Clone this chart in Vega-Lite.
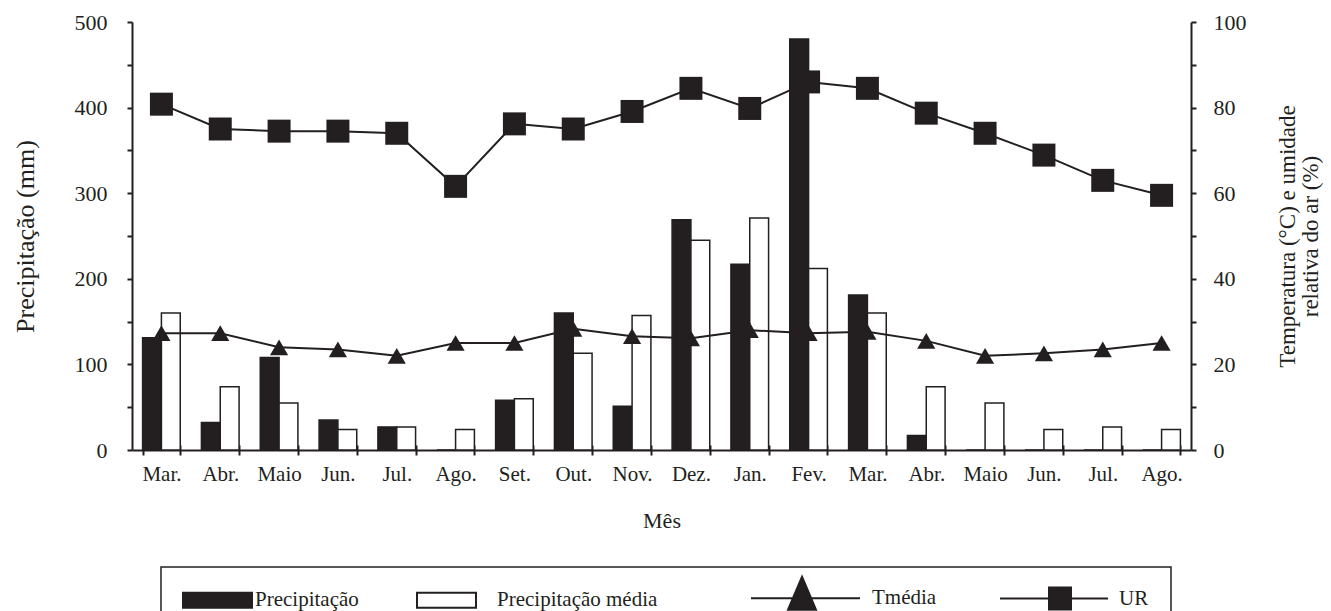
{
  "$schema": "https://vega.github.io/schema/vega-lite/v6.json",
  "width": 1059,
  "height": 428,
  "autosize": {"type": "none"},
  "padding": {"left": 132, "top": 22, "right": 140, "bottom": 161},
  "background": "white",
  "config": {
    "view": {"stroke": null},
    "font": "Liberation Serif",
    "axis": {
      "labelFont": "Liberation Serif",
      "titleFont": "Liberation Serif",
      "labelColor": "#231f20",
      "titleColor": "#231f20",
      "domainColor": "#231f20",
      "tickColor": "#231f20",
      "domainWidth": 2,
      "tickWidth": 2,
      "tickSize": 5,
      "grid": false,
      "labelFontSize": 21,
      "titleFontSize": 22,
      "titleFontWeight": "normal"
    },
    "legend": {"labelFont": "Liberation Serif", "titleFont": "Liberation Serif"}
  },
  "data": {
    "values": [
      {"mes": "Mar.|1", "Precipitação": 131, "Precipitação média": 160, "Tmédia": 27.3, "UR": 80.8},
      {"mes": "Abr.|1", "Precipitação": 32, "Precipitação média": 74, "Tmédia": 27.3, "UR": 75},
      {"mes": "Maio|1", "Precipitação": 108, "Precipitação média": 55, "Tmédia": 24, "UR": 74.5},
      {"mes": "Jun.|1", "Precipitação": 35, "Precipitação média": 24, "Tmédia": 23.5, "UR": 74.5},
      {"mes": "Jul.|1", "Precipitação": 27, "Precipitação média": 27, "Tmédia": 22, "UR": 74},
      {"mes": "Ago.|1", "Precipitação": 0, "Precipitação média": 24, "Tmédia": 25, "UR": 61.6},
      {"mes": "Set.|1", "Precipitação": 58, "Precipitação média": 60, "Tmédia": 25, "UR": 76.2},
      {"mes": "Out.|1", "Precipitação": 160, "Precipitação média": 113, "Tmédia": 28.3, "UR": 75},
      {"mes": "Nov.|1", "Precipitação": 51, "Precipitação média": 157, "Tmédia": 26.6, "UR": 79.1},
      {"mes": "Dez.|1", "Precipitação": 269, "Precipitação média": 245, "Tmédia": 26.1, "UR": 84.5},
      {"mes": "Jan.|2", "Precipitação": 217, "Precipitação média": 271, "Tmédia": 28, "UR": 79.8},
      {"mes": "Fev.|2", "Precipitação": 480, "Precipitação média": 212, "Tmédia": 27.3, "UR": 86},
      {"mes": "Mar.|2", "Precipitação": 181, "Precipitação média": 160, "Tmédia": 27.6, "UR": 84.5},
      {"mes": "Abr.|2", "Precipitação": 17, "Precipitação média": 74, "Tmédia": 25.5, "UR": 78.7},
      {"mes": "Maio|2", "Precipitação": 0, "Precipitação média": 55, "Tmédia": 22, "UR": 74},
      {"mes": "Jun.|2", "Precipitação": 0, "Precipitação média": 24, "Tmédia": 22.6, "UR": 68.9},
      {"mes": "Jul.|2", "Precipitação": 0, "Precipitação média": 27, "Tmédia": 23.5, "UR": 63},
      {"mes": "Ago.|2", "Precipitação": 0, "Precipitação média": 24, "Tmédia": 25, "UR": 59.5}
    ]
  },
  "layer": [
    {
      "transform": [{"fold": ["Precipitação", "Precipitação média"], "as": ["serie", "v"]}],
      "mark": {"type": "bar", "stroke": "#231f20", "strokeWidth": 1.5},
      "encoding": {
        "x": {
          "field": "mes", "type": "nominal", "sort": null,
          "scale": {"paddingInner": 0.36, "paddingOuter": 0.18},
          "axis": {"orient": "bottom", "title": "Mês", "labelExpr": "isString(datum.value) ? split(datum.value, '|')[0] : ''", "labelAngle": 0, "tickBand": "extent", "labelPadding": 8, "titlePadding": 26}
        },
        "xOffset": {"field": "serie", "type": "nominal", "scale": {"domain": ["Precipitação", "Precipitação média"], "paddingInner": 0, "paddingOuter": 0}},
        "y": {
          "field": "v", "type": "quantitative",
          "scale": {"domain": [0, 500], "nice": false},
          "axis": {"orient": "left", "title": "Precipitação (mm)", "values": [0, 50, 100, 150, 200, 250, 300, 350, 400, 450, 500], "labelExpr": "datum.value % 100 === 0 ? datum.label : ''", "labelPadding": 20, "titlePadding": 36, "titleFontSize": 26, "labelFontSize": 22}
        },
        "fill": {
          "field": "serie", "type": "nominal",
          "scale": {"domain": ["Precipitação", "Precipitação média", "Tmédia", "UR"], "range": ["#231f20", "#ffffff", "#231f20", "#231f20"]},
          "legend": {
            "orient": "none", "legendX": 29, "legendY": 545, "direction": "horizontal", "title": null,
            "padding": 22, "strokeColor": "#231f20", "columnPadding": 54, "symbolSize": 11827, "labelOffset": 4,
            "labelFont": "Liberation Serif", "labelFontSize": 21, "labelColor": "#231f20", "labelBaseline": "middle", "labelLimit": 400,
            "encoding": {
              "symbols": {
                "shape": {"value": {"expr": "datum.value === 'Tmédia' ? 'M-5.1,0H5.8M0,-2.15L1.4,1.15H-1.4Z' : datum.value === 'UR' ? 'M-6,0H4.8M-1.1,-1.1H1.1V1.1H-1.1Z' : datum.value === 'Precipitação' ? 'M-3.45,-0.75H3.45V0.75H-3.45Z' : 'M-2.95,-0.75H2.95V0.75H-2.95Z'"}},
                "fill": {"value": {"expr": "datum.value === 'Precipitação média' ? '#ffffff' : '#231f20'"}},
                "stroke": {"value": "#231f20"},
                "strokeWidth": {"value": 2},
                "size": {"value": 400},
                "opacity": {"value": 1},
                "x": {"value": {"expr": "datum.value === 'Tmédia' ? 90 : datum.value === 'UR' ? 69 : datum.value === 'Precipitação' ? 34.5 : 29.5"}},
                "y": {"value": 9}
              },
              "labels": {
                "x": {"value": {"expr": "datum.value === 'Tmédia' ? 160 : datum.value === 'UR' ? 128 : datum.value === 'Precipitação' ? 72 : 80"}},
                "y": {"value": 9}
              },
              "legend": {"strokeWidth": {"value": 1.5}}
            }
          }
        }
      }
    },
    {
      "transform": [{"fold": ["Tmédia", "UR"], "as": ["serie", "v"]}],
      "encoding": {
        "x": {
          "field": "mes", "type": "nominal", "sort": null,
          "axis": {"orient": "bottom", "title": null, "labels": false, "domain": false, "tickBand": "extent", "tickSize": -5}
        },
        "y": {
          "field": "v", "type": "quantitative",
          "scale": {"domain": [0, 100], "nice": false},
          "axis": {"orient": "right", "title": ["Temperatura (°C) e umidade", "relativa do ar (%)"], "values": [0, 10, 20, 30, 40, 50, 60, 70, 80, 90, 100], "labelExpr": "datum.value % 20 === 0 ? datum.label : ''", "labelPadding": 17, "titlePadding": 30, "titleAngle": 270, "titleFontSize": 23, "titleLineHeight": 23, "labelFontSize": 22}
        }
      },
      "layer": [
        {"mark": {"type": "line", "color": "#231f20", "strokeWidth": 2}, "encoding": {"detail": {"field": "serie"}}},
        {"transform": [{"filter": "datum.serie === 'Tmédia'"}], "mark": {"type": "point", "shape": "triangle-up", "filled": true, "color": "#231f20", "size": 330, "opacity": 1}},
        {"transform": [{"filter": "datum.serie === 'UR'"}], "mark": {"type": "point", "shape": "square", "filled": true, "color": "#231f20", "size": 529, "opacity": 1}}
      ]
    }
  ],
  "resolve": {"scale": {"y": "independent"}, "axis": {"x": "independent"}}
}
